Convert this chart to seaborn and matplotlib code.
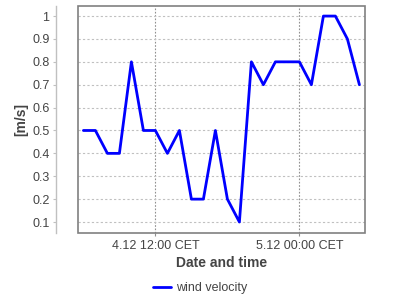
import matplotlib
matplotlib.use("Agg")
import matplotlib.pyplot as plt
from matplotlib.patches import Rectangle
import seaborn as sns
import pandas as pd

sns.set_style("white")
plt.rcParams['font.family'] = ['Liberation Sans', 'DejaVu Sans']

start_time = "2023-12-04 06:00"
n_hours = 24
velocity = [0.5, 0.5, 0.4, 0.4, 0.8, 0.5, 0.5, 0.4, 0.5, 0.2, 0.2, 0.5,
            0.2, 0.1, 0.8, 0.7, 0.8, 0.8, 0.8, 0.7, 1.0, 1.0, 0.9, 0.7]
y_ticks = [0.1, 0.2, 0.3, 0.4, 0.5, 0.6, 0.7, 0.8, 0.9, 1.0]
y_tick_labels = ["0.1", "0.2", "0.3", "0.4", "0.5", "0.6", "0.7", "0.8", "0.9", "1"]
x_ticks = ["2023-12-04 12:00", "2023-12-05 00:00"]
x_tick_labels = ["4.12 12:00 CET", "5.12 00:00 CET"]

df = pd.DataFrame({
    "time": pd.date_range(start_time, periods=n_hours, freq="h"),
    "wind velocity": velocity,
})

fig = plt.figure(figsize=(4, 3), dpi=100)
ax = fig.add_axes([78/400, 1 - 233/300, (365-78)/400, (233-6)/300])

sns.lineplot(data=df, x="time", y="wind velocity", ax=ax, color="#0000ff",
             linewidth=2, label="wind velocity", legend=False)

t0 = pd.Timestamp(start_time)
ax.set_xlim(t0 - pd.Timedelta(minutes=27), t0 + pd.Timedelta(hours=23, minutes=28))
ax.set_ylim(0.052, 1.044)

ax.set_yticks(y_ticks)
ax.set_yticklabels(y_tick_labels)
ax.set_xticks([pd.Timestamp(t) for t in x_ticks])
ax.set_xticklabels(x_tick_labels)

ax.yaxis.grid(True, color="#c0c0c0", linestyle=(0, (2, 2)), linewidth=0.8)
ax.xaxis.grid(True, color="#909090", linestyle=(0, (1.5, 1.5)), linewidth=0.8)

for s in ["top", "right", "bottom"]:
    ax.spines[s].set_visible(False)
ax.spines["left"].set_position(("outward", 15.5))
ax.spines["left"].set_color("#c0c0c0")
ax.spines["left"].set_linewidth(1)
ax.add_patch(Rectangle((0, 0), 1, 1, transform=ax.transAxes, fill=False,
                       edgecolor="#808080", linewidth=1.2, clip_on=False, zorder=5))

ax.tick_params(axis="y", direction="out", length=2, color="#c0c0c0",
               labelsize=9, labelcolor="#444444", pad=3)
ax.tick_params(axis="x", direction="out", length=2, color="#909090",
               labelsize=9, labelcolor="#444444", pad=3)
ax.tick_params(left=True, bottom=True)

ax.set_xlabel("Date and time", fontsize=10, fontweight="bold", color="#444444", labelpad=3)
ax.set_ylabel("[m/s]", fontsize=10, fontweight="bold", color="#444444", labelpad=3)

h, l = ax.get_legend_handles_labels()
fig.legend(h, l, loc="center", bbox_to_anchor=(0.5, 1 - 288/300), frameon=False,
           fontsize=9, labelcolor="#444444", handlelength=1.5, handletextpad=0.4)

fig.savefig("out.png", dpi=100, facecolor="white")
